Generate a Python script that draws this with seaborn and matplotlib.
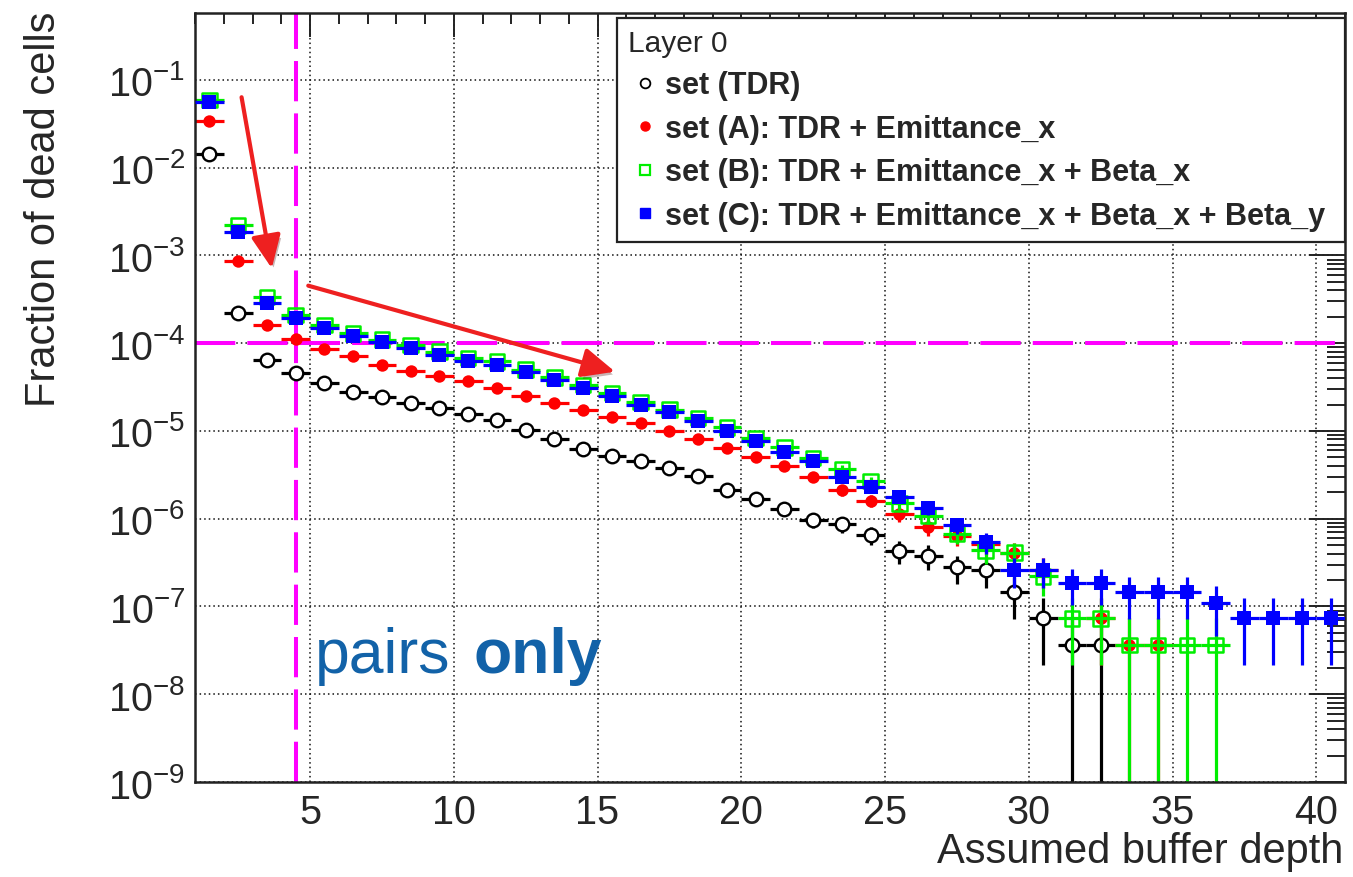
import numpy as np
import pandas as pd
import matplotlib
matplotlib.use("Agg")
import matplotlib.pyplot as plt
import matplotlib.patheffects as pe
from matplotlib.lines import Line2D
from matplotlib.ticker import FixedLocator, LogLocator, NullFormatter, MultipleLocator
import seaborn as sns

nan = np.nan

# ---------------- data ----------------
buffer_depth = [1.5, 2.5, 3.5, 4.5, 5.5, 6.5, 7.5, 8.5, 9.5, 10.5,
                11.5, 12.5, 13.5, 14.5, 15.5, 16.5, 17.5, 18.5, 19.5, 20.5,
                21.5, 22.5, 23.5, 24.5, 25.5, 26.5, 27.5, 28.5, 29.5, 30.5,
                31.5, 32.5, 33.5, 34.5, 35.5, 36.5, 37.5, 38.5, 39.5, 40.5]

frac_tdr = [1.45e-2, 2.2e-4, 6.5e-5, 4.6e-5, 3.5e-5, 2.8e-5, 2.45e-5, 2.1e-5, 1.83e-5, 1.58e-5,
            1.35e-5, 1.03e-5, 8.0e-6, 6.3e-6, 5.2e-6, 4.55e-6, 3.8e-6, 3.1e-6, 2.1e-6, 1.66e-6,
            1.29e-6, 9.8e-7, 8.7e-7, 6.6e-7, 4.3e-7, 3.8e-7, 2.8e-7, 2.6e-7, 1.45e-7, 7.3e-8,
            3.65e-8, 3.65e-8, nan, nan, nan, nan, nan, nan, nan, nan]

frac_a = [3.4e-2, 8.7e-4, 1.6e-4, 1.12e-4, 8.6e-5, 7.1e-5, 5.6e-5, 4.8e-5, 4.2e-5, 3.7e-5,
          3.1e-5, 2.5e-5, 2.1e-5, 1.75e-5, 1.45e-5, 1.22e-5, 1.0e-5, 8.0e-6, 6.45e-6, 5.1e-6,
          4.0e-6, 2.97e-6, 2.1e-6, 1.6e-6, 1.13e-6, 8.0e-7, 6.4e-7, 5.2e-7, 4.1e-7, 2.6e-7,
          nan, 7.3e-8, 3.65e-8, 3.65e-8, nan, nan, nan, nan, nan, nan]

frac_b = [5.9e-2, 2.2e-3, 3.35e-4, 2.1e-4, 1.62e-4, 1.3e-4, 1.1e-4, 9.5e-5, 8.0e-5, 6.8e-5,
          6.2e-5, 5.0e-5, 4.1e-5, 3.35e-5, 2.7e-5, 2.15e-5, 1.75e-5, 1.4e-5, 1.1e-5, 8.3e-6,
          6.5e-6, 4.9e-6, 3.7e-6, 2.7e-6, 1.5e-6, 1.08e-6, 6.7e-7, 4.35e-7, 4.1e-7, 2.2e-7,
          7.3e-8, 7.3e-8, 3.65e-8, 3.65e-8, 3.65e-8, 3.65e-8, nan, nan, nan, nan]

frac_c = [5.6e-2, 1.85e-3, 2.9e-4, 1.93e-4, 1.5e-4, 1.22e-4, 1.02e-4, 8.8e-5, 7.4e-5, 6.3e-5,
          5.7e-5, 4.66e-5, 3.8e-5, 3.1e-5, 2.5e-5, 2.0e-5, 1.64e-5, 1.29e-5, 1.0e-5, 7.6e-6,
          5.8e-6, 4.5e-6, 3.0e-6, 2.33e-6, 1.77e-6, 1.32e-6, 8.5e-7, 5.4e-7, 2.6e-7, 2.6e-7,
          1.85e-7, 1.85e-7, 1.45e-7, 1.45e-7, 1.45e-7, 1.1e-7, 7.3e-8, 7.3e-8, 7.3e-8, 7.3e-8]

labels = ["set (TDR)",
          "set (A): TDR + Emittance_x",
          "set (B): TDR + Emittance_x + Beta_x",
          "set (C): TDR + Emittance_x + Beta_x + Beta_y"]

x_ticks = [5, 10, 15, 20, 25, 30, 35, 40]
y_ticks = [1e-9, 1e-8, 1e-7, 1e-6, 1e-5, 1e-4, 1e-3, 1e-2, 1e-1]

count_unit = 3.65e-8     # fraction corresponding to one dead cell (Poisson errors)
bin_half_width = 0.5
pixel_limit = 1e-4
depth_limit = 4.5

# ---------------- style ----------------
sns.set_theme(style="white")
plt.rcParams["font.family"] = ["Liberation Sans", "DejaVu Sans"]
plt.rcParams["mathtext.fontset"] = "custom"
plt.rcParams["mathtext.rm"] = "Liberation Sans"
plt.rcParams["mathtext.it"] = "Liberation Sans:italic"
plt.rcParams["mathtext.bf"] = "Liberation Sans:bold"
plt.rcParams["mathtext.default"] = "regular"
plt.rcParams["axes.unicode_minus"] = True

W, H = 1353, 878
fig = plt.figure(figsize=(W / 100, H / 100), dpi=100)
fig.patch.set_facecolor("white")
ax = fig.add_axes([195 / W, 1 - 783 / H, 1150 / W, 769 / H])
ax.set_facecolor("white")

ax.set_yscale("log")
ax.set_xlim(1, 41)
ax.set_ylim(1e-9, 0.58)
ax.set_axisbelow(True)

# grid
ax.grid(True, which="major", axis="both", color="#111111", lw=1.1,
        ls=(0, (1, 2)))

# magenta reference lines (behind data)
mag = "#ff00ff"
ax.axhline(pixel_limit, color=mag, lw=2.9, ls=(0, (10, 3)), zorder=1.5)
ax.axvline(depth_limit, color=mag, lw=2.9, ls=(0, (10, 3)), zorder=1.5)

df = pd.DataFrame({"depth": buffer_depth, "TDR": frac_tdr, "A": frac_a,
                   "B": frac_b, "C": frac_c})

styles = [
    ("TDR", "black", dict(marker="o", s=95, color="white", edgecolor="black", linewidth=1.7)),
    ("A", "#ff0000", dict(marker="o", s=80, color="#ff0000", edgecolor="#ff0000", linewidth=0)),
    ("B", "#00ee00", dict(marker="s", s=110, color="#00ee00", facecolor="none", edgecolor="#00ee00", linewidth=1.8)),
    ("C", "#0000ff", dict(marker="s", s=100, color="#0000ff", edgecolor="#0000ff", linewidth=0)),
]

z = 2.0
for key, ecol, mk in styles:
    sub = df[["depth", key]].dropna()
    y = sub[key].to_numpy()
    err = np.sqrt(y * count_unit)
    lo = np.minimum(err, y - 1e-13)
    ax.errorbar(sub["depth"], y, xerr=bin_half_width, yerr=[lo, err], fmt="none",
                ecolor=ecol, elinewidth=2.3, capsize=0, zorder=z)
    sns.scatterplot(data=sub, x="depth", y=key, ax=ax, zorder=z + 0.1, legend=False, **mk)
    z += 0.2

# arrows
arrow_kw = dict(arrowstyle="-|>,head_length=1.0,head_width=0.45", color="#ee2020",
                lw=3.0, mutation_scale=20, shrinkA=0, shrinkB=0,
                path_effects=[pe.SimplePatchShadow(offset=(2, -3), alpha=0.3), pe.Normal()])
ax.annotate("", xy=(3.67, 7.15e-4), xytext=(2.62, 6.36e-2), arrowprops=arrow_kw, zorder=6)
ax.annotate("", xy=(15.61, 4.74e-5), xytext=(4.94, 4.53e-4), arrowprops=arrow_kw, zorder=6)

# text
txt_col = "#1262a8"
ax.text(5.17, 1.81e-8, "pairs", color=txt_col, fontsize=45, va="baseline", ha="left", zorder=6)
ax.text(10.68, 1.81e-8, "only", color=txt_col, fontsize=45, fontweight="bold",
        va="baseline", ha="left", zorder=6)

# ticks
ax.xaxis.set_major_locator(FixedLocator(x_ticks))
ax.xaxis.set_minor_locator(MultipleLocator(1))
ax.yaxis.set_major_locator(FixedLocator(y_ticks))
ax.yaxis.set_minor_locator(LogLocator(base=10, subs=np.arange(2, 10), numticks=20))
ax.yaxis.set_minor_formatter(NullFormatter())
ax.set_yticklabels([r"$10^{%d}$" % int(round(np.log10(v))) for v in y_ticks])
ax.set_xticklabels([str(v) for v in x_ticks])
ax.tick_params(which="both", direction="in", top=True, right=True, color="#222222", width=1.4)
ax.tick_params(axis="x", which="major", length=17, pad=8, labelsize=28.5)
ax.tick_params(axis="x", which="minor", length=8)
ax.tick_params(axis="y", which="major", length=26, pad=7, labelsize=28.5)
ax.tick_params(axis="y", which="minor", length=13)
for sp in ax.spines.values():
    sp.set_linewidth(1.8)
    sp.set_color("#222222")
    sp.set_visible(True)

ax.set_xlabel("")
ax.set_ylabel("")
fig.text(1343 / W, 1 - 863 / H, "Assumed buffer depth", fontsize=30, ha="right", va="baseline")
fig.text(44 / W, 1 - 12 / H, "Fraction of dead cells", fontsize=30, rotation=90,
         ha="center", va="top")

# legend
handles = [
    Line2D([], [], ls="none", marker="o", ms=7, mfc="white", mec="black", mew=1.3),
    Line2D([], [], ls="none", marker="o", ms=6.5, mfc="#ff0000", mec="#ff0000"),
    Line2D([], [], ls="none", marker="s", ms=7, mfc="none", mec="#00ee00", mew=1.6),
    Line2D([], [], ls="none", marker="s", ms=7, mfc="#0000ff", mec="#0000ff"),
]
leg = ax.legend(handles, labels, title="Layer 0", loc="upper left",
                bbox_to_anchor=(0.367, 0.702, 0.633, 0.2915), mode="expand",
                prop={"weight": "bold", "size": 22.0},
                title_fontproperties={"size": 21.5}, alignment="left",
                frameon=True, fancybox=False, edgecolor="#222222", framealpha=1,
                borderpad=0.36, labelspacing=0.44, handlelength=1.1,
                handletextpad=0.1, borderaxespad=0)
leg.get_frame().set_linewidth(1.6)
leg.set_zorder(8)

fig.savefig("out.png", dpi=100)
